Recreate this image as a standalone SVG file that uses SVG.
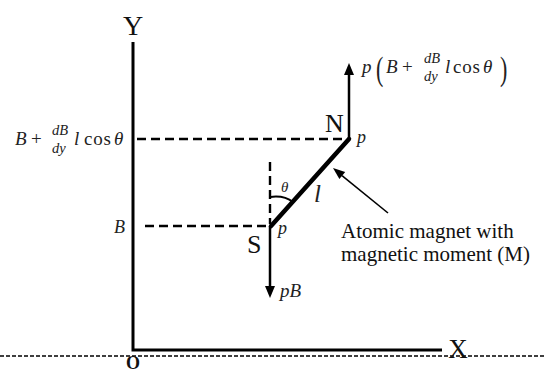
<svg xmlns="http://www.w3.org/2000/svg" width="544" height="373" viewBox="0 0 544 373">
  <style>
    .t { font-family: "Liberation Serif", "Times New Roman", serif; fill: #111; }
    .m { font-family: "Liberation Serif", "Times New Roman", serif; font-style: italic; fill: #222; }
    .r { font-family: "Liberation Serif", "Times New Roman", serif; fill: #222; }
    .axis { stroke: #000; stroke-width: 3; fill: none; }
    .dash { stroke: #000; stroke-width: 2.4; stroke-dasharray: 9 5; fill: none; }
    .fine { stroke: #000; stroke-width: 1.4; stroke-dasharray: 4 2; fill: none; }
    .arr { stroke: #000; stroke-width: 2.5; fill: none; }
  </style>
  <rect width="544" height="373" fill="#fff"/>

  <g id="baseline">
    <line class="fine" x1="0" y1="356" x2="544" y2="356"/>
  </g>

  <g id="axes">
    <polyline class="axis" points="133,42 133,350 442,350"/>
    <text class="t" x="133" y="35" font-size="28" text-anchor="middle">Y</text>
    <text class="t" x="458" y="358" font-size="27" text-anchor="middle">X</text>
    <text class="t" x="133" y="369" font-size="18" font-weight="bold" text-anchor="middle">O</text>
  </g>

  <g id="guides">
    <line class="dash" x1="137" y1="139" x2="347" y2="139"/>
    <line class="dash" x1="145" y1="226" x2="268" y2="226"/>
    <line class="dash" x1="270" y1="162" x2="270" y2="224"/>
    <path d="M270,197 Q284,195 293,202" stroke="#000" stroke-width="2" fill="none"/>
  </g>

  <g id="magnet">
    <line x1="271" y1="226" x2="349" y2="139" stroke="#000" stroke-width="4.5" stroke-linecap="round"/>
    <text class="t" x="325" y="132" font-size="26">N</text>
    <text class="t" x="247" y="253" font-size="26">S</text>
    <text class="m" x="357" y="143" font-size="18">p</text>
    <text class="m" x="278" y="234" font-size="18">p</text>
    <text class="m" x="281" y="192" font-size="15">θ</text>
    <text class="m" x="314" y="202" font-size="25">l</text>
  </g>

  <g id="connectors">
    <line class="arr" x1="349" y1="140" x2="349" y2="72"/>
    <polygon points="349,63 344,75 354,75" fill="#000"/>
    <line class="arr" x1="270" y1="226" x2="270" y2="288"/>
    <polygon points="270,298 265,286 275,286" fill="#000"/>
    <line x1="388" y1="213" x2="342" y2="175.6" stroke="#000" stroke-width="1.6"/>
    <polygon points="333,168 345.2,172.1 339.4,179.1" fill="#000"/>
  </g>

  <g id="force-top">
    <text class="m" x="362" y="73" font-size="19">p</text>
    <text class="r" transform="translate(376,80) scale(1,1.55)" font-size="22">(</text>
    <text class="m" x="386" y="73" font-size="19">B</text>
    <text class="r" x="402" y="73" font-size="19">+</text>
    <text class="m" x="424" y="63" font-size="14.5">dB</text>
    <text class="m" x="424" y="81" font-size="14.5">dy</text>
    <text class="m" x="445" y="73" font-size="19">l</text>
    <text class="r" x="453" y="73" font-size="19" textLength="27">cos</text>
    <text class="m" x="483" y="73" font-size="19">θ</text>
    <text class="r" transform="translate(500,80) scale(1,1.55)" font-size="22">)</text>
  </g>

  <g id="force-bottom">
    <text class="m" x="280" y="297" font-size="19">pB</text>
  </g>

  <g id="label-top">
    <text class="m" x="15" y="145" font-size="19">B</text>
    <text class="r" x="31" y="145" font-size="19">+</text>
    <text class="m" x="52" y="135" font-size="14.5">dB</text>
    <text class="m" x="52" y="153" font-size="14.5">dy</text>
    <text class="m" x="74" y="145" font-size="19">l</text>
    <text class="r" x="84" y="145" font-size="19" textLength="27">cos</text>
    <text class="m" x="114" y="145" font-size="19">θ</text>
  </g>

  <g id="label-bottom">
    <text class="m" x="114" y="233" font-size="18">B</text>
  </g>

  <g id="note">
    <text class="t" x="341" y="238" font-size="21">Atomic magnet with</text>
    <text class="t" x="341" y="261" font-size="21">magnetic moment (M)</text>
  </g>
</svg>
